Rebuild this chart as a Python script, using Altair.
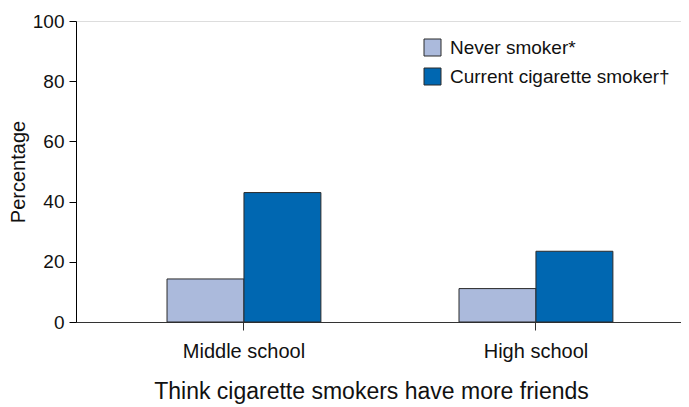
import altair as alt
import pandas as pd

schools = ["Middle school", "High school"]
groups = ["Never smoker*", "Current cigarette smoker\u2020"]
never_vals = [14.3, 11.1]
current_vals = [43.0, 23.5]

rows = []
for s, n, c in zip(schools, never_vals, current_vals):
    rows.append({"school": s, "group": groups[0], "value": n})
    rows.append({"school": s, "group": groups[1], "value": c})
df = pd.DataFrame(rows)

FONT = "Liberation Sans"

chart = alt.Chart(df).mark_bar(stroke="#2b2b2b", strokeWidth=1).encode(
    x=alt.X("school:N", sort=schools,
            scale=alt.Scale(paddingInner=0.473, paddingOuter=0.2725, align=0.572),
            axis=alt.Axis(title="Think cigarette smokers have more friends", labelAngle=0,
                          labelFontSize=20, titleFontSize=23, titleFontWeight="normal",
                          labelPadding=11, titlePadding=19, tickSize=8, tickColor="#333",
                          titleX=295, titleAlign="center",
                          domainColor="#333", labelColor="#111", titleColor="#111")),
    xOffset=alt.XOffset("group:N", sort=groups, scale=alt.Scale(paddingInner=0, paddingOuter=0)),
    y=alt.Y("value:Q", scale=alt.Scale(domain=[0, 100]),
            axis=alt.Axis(title="Percentage", values=[0, 20, 40, 60, 80, 100], grid=False,
                          labelFontSize=19, titleFontSize=20, titleFontWeight="normal",
                          tickSize=7, labelPadding=5, titlePadding=4, tickColor="#000",
                          domainColor="#000", labelColor="#111", titleColor="#111")),
    color=alt.Color("group:N", sort=groups,
                    scale=alt.Scale(domain=groups, range=["#abbadc", "#0067b1"]),
                    legend=alt.Legend(title=None, orient="none", legendX=347, legendY=17,
                                      symbolType="square", symbolSize=289,
                                      symbolStrokeColor="#2b2b2b", symbolStrokeWidth=1,
                                      labelFontSize=19, labelColor="#111", rowPadding=8,
                                      labelLimit=400, symbolOffset=0, labelOffset=8)),
).properties(
    width=605, height=301,
    autosize=alt.AutoSizeParams(type="none"),
    padding={"left": 68, "top": 13, "right": 0, "bottom": 85},
).configure_view(stroke=None).configure(font=FONT)

chart.save("out.html", embed_options={"renderer": "svg", "actions": False})
